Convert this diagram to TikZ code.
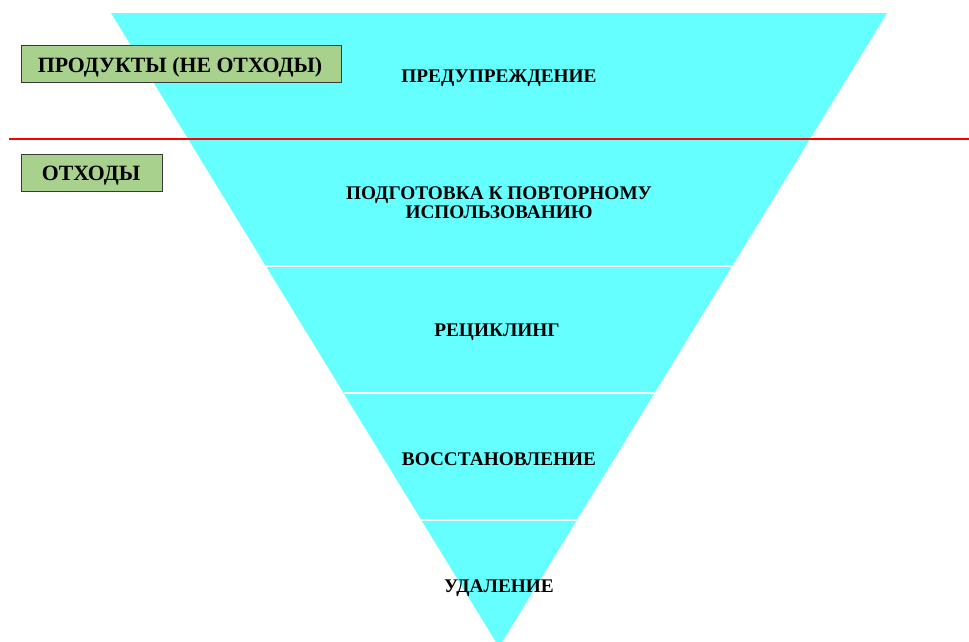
\documentclass[tikz,border=0pt]{standalone}
\usepackage{fontspec}
\setmainfont{Liberation Serif}
\definecolor{tri}{HTML}{66FFFF}
\definecolor{boxfill}{HTML}{A9D18E}
\definecolor{boxline}{HTML}{3A3A3A}
\begin{document}
\begin{tikzpicture}[x=1pt,y=-1pt,
  lbl/.style={font=\fontsize{19.3}{19.5}\selectfont\bfseries, align=center, inner sep=0pt, anchor=base},
  tag/.style={draw=boxline, line width=1.2pt, fill=boxfill, inner sep=0pt, anchor=north west},
  tagtext/.style={font=\fontsize{21.8}{22}\selectfont\bfseries, inner sep=0pt, anchor=base}]
\useasboundingbox (0,0) rectangle (969,641);
\begin{scope}
\clip (0,0) rectangle (969,641);
\fill[tri] (111,13) -- (887,13) -- (499,647) -- cycle;
% band dividers
\foreach \yy in {266,393,520}{
  \pgfmathsetmacro{\hw}{0.61199*(647-\yy)}
  \draw[white, line width=1.2pt] ({499-\hw},\yy) -- ({499+\hw},\yy);
}
\end{scope}
\coordinate (rl) at (9,139);
\coordinate (rr) at (969,139);
\draw[red, line width=2.6pt] (rl) -- (rr);
\node[lbl] (prev) at (499,82) {ПРЕДУПРЕЖДЕНИЕ};
\node[lbl] (reuse) at (499,218.5) {ПОДГОТОВКА К ПОВТОРНОМУ\\ИСПОЛЬЗОВАНИЮ};
\node[lbl] (recyc) at (497,336.5) {РЕЦИКЛИНГ};
\node[lbl] (recov) at (499,465) {ВОССТАНОВЛЕНИЕ};
\node[lbl] (disp) at (499,592) {УДАЛЕНИЕ};
\node[tag, minimum width=320pt, minimum height=37pt] (prod) at (21,45) {};
\node[tagtext] (prodt) at (180,72) {ПРОДУКТЫ (НЕ ОТХОДЫ)};
\node[tag, minimum width=141pt, minimum height=37pt] (waste) at (21,154) {};
\node[tagtext] (wastet) at (91,180) {ОТХОДЫ};
\end{tikzpicture}
\end{document}
